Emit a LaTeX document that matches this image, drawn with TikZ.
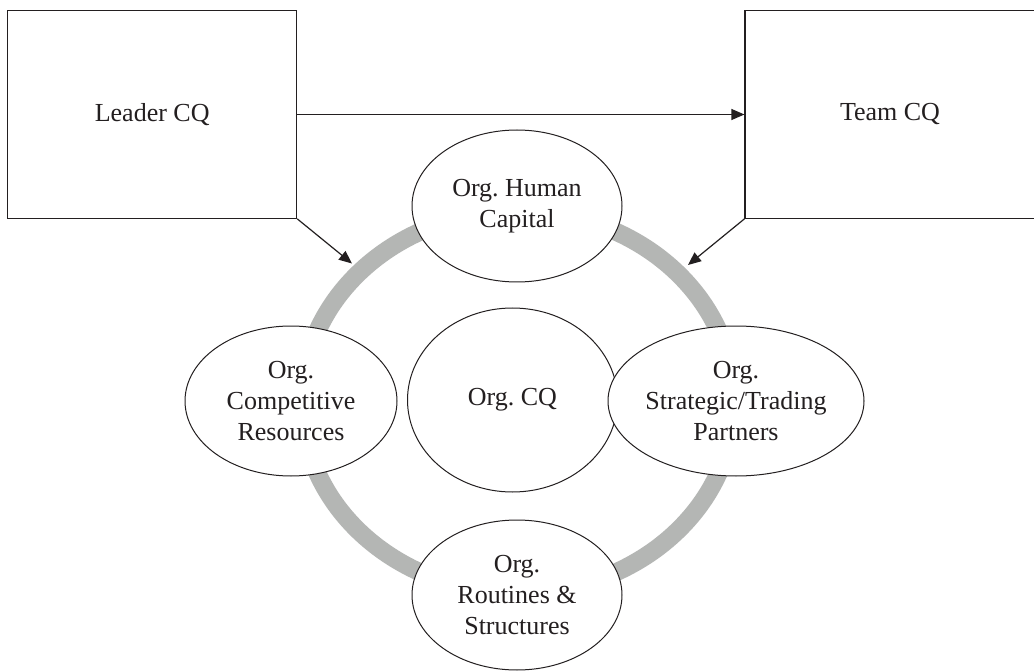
\documentclass[tikz,border=0pt]{standalone}
\usepackage{fontspec}
\setmainfont{Liberation Serif}
\usetikzlibrary{shapes.geometric,arrows.meta}
\definecolor{ink}{RGB}{35,31,32}
\definecolor{ringgray}{RGB}{180,182,180}
\frenchspacing
\begin{document}
\begin{tikzpicture}[x=1pt,y=-1pt,
  every node/.style={text=ink,font=\fontsize{26}{31}\selectfont\frenchspacing},
  cqbox/.style={draw=ink,line width=1.2pt,rectangle,inner sep=0pt,minimum width=289pt,minimum height=207.6pt},
  oval/.style={draw=ink,line width=1pt,fill=white,ellipse,inner sep=0pt,align=center},
  link/.style={draw=ink,line width=1.2pt,-{Triangle[length=13pt,width=11pt]}},
  ring/.style={draw=ringgray,line width=18pt}]
\useasboundingbox (0,0) rectangle (1034,671);
\fill[white] (0,0) rectangle (1034,671);
% boxes
\node[cqbox] (leader) at (152.2,114.5) {Leader CQ};
\node[cqbox,minimum width=290pt] (team) at (890,114.5) {Team CQ};
% ring
\draw[ring] (518,402) ellipse [x radius=216pt, y radius=191pt];
% ovals
\node[oval,minimum width=210pt,minimum height=152pt] (human) at (517,206) {Org. Human\\Capital};
\node[oval,minimum width=212pt,minimum height=150pt] (comp) at (291,401) {Org.\\Competitive\\Resources};
\node[oval,minimum width=210pt,minimum height=184pt] (orgcq) at (512.5,400) {Org. CQ};
\node[oval,minimum width=212pt,minimum height=150pt] (partners) at (736,401) {Org.\\Strategic/Trading\\Partners};
\node[oval,minimum width=210pt,minimum height=150pt] (routines) at (517,595) {Org.\\Routines \&\\Structures};
% connectors
\coordinate (ringL) at (352,263.5);
\coordinate (ringR) at (688,265);
\draw[link] (leader.east) -- (team.west);
\draw[link] (leader.south east) -- (ringL);
\draw[link] (team.south west) -- (ringR);
\end{tikzpicture}
\end{document}
